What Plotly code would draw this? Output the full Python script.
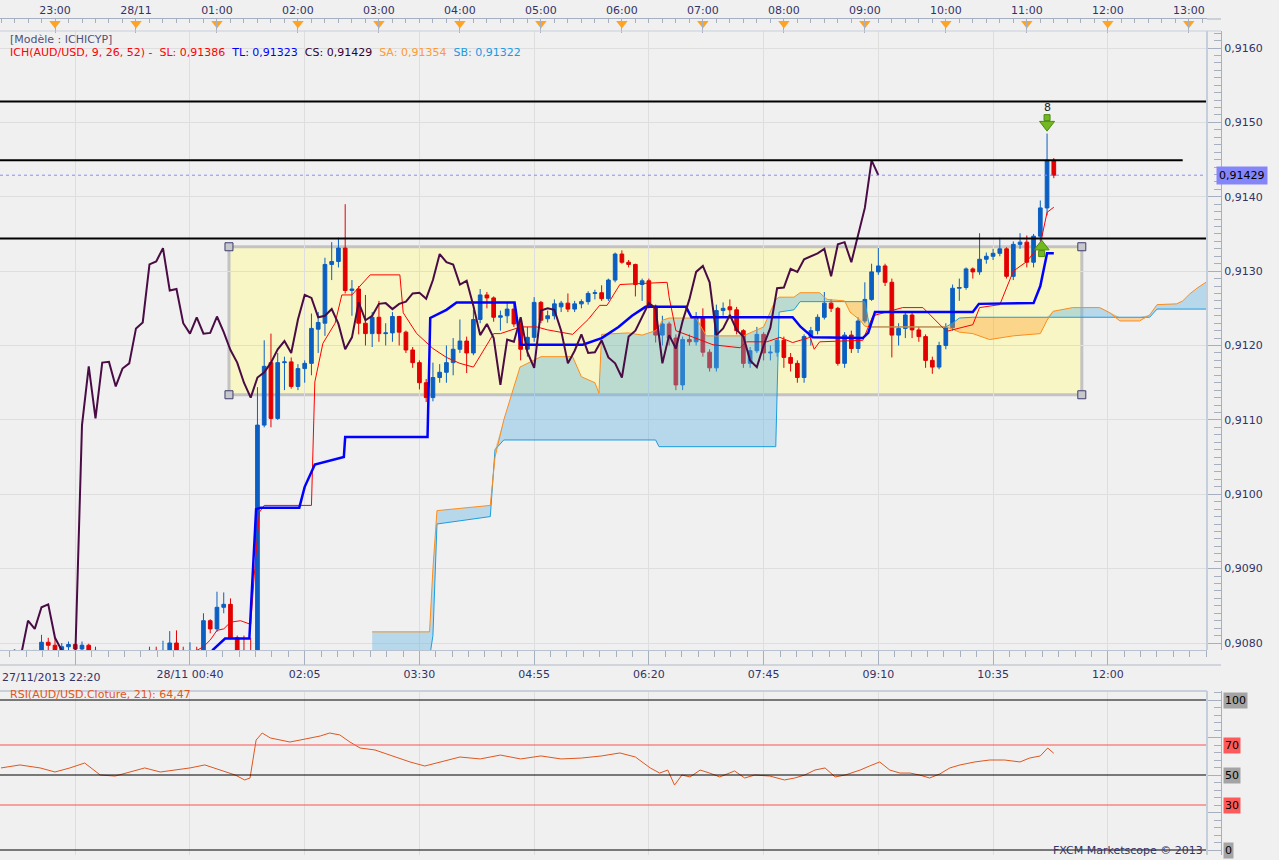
import plotly.graph_objects as go
import pandas as pd

# ---------------- data (5-minute bars, AUD/USD, starting 27/11/2013 22:20) ----------------
START = "2013-11-27 22:20"

opens = [0.9077, 0.9077, 0.9078, 0.9078, 0.9079, 0.9078, 0.9079, 0.90801, 0.90797, 0.9079,
         0.90795, 0.90798, 0.90792, 0.90797, 0.9079, 0.9078, 0.9077, 0.9076, 0.9077, 0.9078,
         0.9077, 0.9078, 0.9078, 0.9079, 0.9078, 0.9079, 0.908, 0.9079, 0.9078, 0.9079,
         0.90785, 0.9083, 0.90819, 0.90848, 0.90852, 0.90807, 0.9079, 0.90785, 0.9078, 0.91093,
         0.91177, 0.91102, 0.91177, 0.91178, 0.91145, 0.91169, 0.91176, 0.91222, 0.9123, 0.91309,
         0.91313, 0.91331, 0.91274, 0.91276, 0.9123, 0.91216, 0.91238, 0.91216, 0.91217, 0.91239,
         0.91218, 0.91194, 0.91177, 0.9115, 0.9113, 0.91157, 0.91164, 0.91177, 0.91195, 0.91206,
         0.9119, 0.91235, 0.91268, 0.91264, 0.91238, 0.9124, 0.91249, 0.91229, 0.91195, 0.91211,
         0.91258, 0.91236, 0.9124, 0.91252, 0.91257, 0.91249, 0.91256, 0.91259, 0.9127, 0.91271,
         0.91263, 0.91288, 0.91323, 0.91312, 0.91309, 0.91282, 0.91287, 0.91253, 0.91214, 0.91229,
         0.9121, 0.91147, 0.91208, 0.91205, 0.91238, 0.91191, 0.9117, 0.91247, 0.91252, 0.91248,
         0.9122, 0.91176, 0.91193, 0.91215, 0.9119, 0.91191, 0.91207, 0.91184, 0.91176, 0.91157,
         0.91212, 0.9122, 0.91238, 0.91257, 0.9125, 0.91176, 0.91214, 0.91196, 0.91233, 0.91262,
         0.91299, 0.91307, 0.91285, 0.91214, 0.91223, 0.91241, 0.91221, 0.91212, 0.9118, 0.91171,
         0.912, 0.91224, 0.91277, 0.91278, 0.91303, 0.91299, 0.91316, 0.9132, 0.91324, 0.9133,
         0.91293, 0.91336, 0.91339, 0.91312, 0.91347, 0.91385, 0.91449]
highs = [0.9078, 0.9078, 0.9079, 0.9079, 0.9079, 0.9079, 0.90811, 0.90807, 0.90807, 0.908,
         0.90802, 0.908, 0.90802, 0.90799, 0.90795, 0.9079, 0.9078, 0.9078, 0.9079, 0.9079,
         0.9078, 0.9079, 0.90795, 0.90795, 0.90803, 0.90816, 0.90817, 0.90795, 0.90801, 0.90795,
         0.9084, 0.90832, 0.90869, 0.90868, 0.9086, 0.9081, 0.9081, 0.90807, 0.91144, 0.91207,
         0.91216, 0.9119, 0.91185, 0.91184, 0.91175, 0.9118, 0.91243, 0.91245, 0.91318, 0.91339,
         0.91345, 0.9139, 0.91288, 0.9128, 0.91268, 0.91245, 0.9126, 0.9123, 0.91245, 0.9124,
         0.9122, 0.91198, 0.9118, 0.91155, 0.91177, 0.91175, 0.912, 0.9121, 0.91235, 0.91212,
         0.91248, 0.91276, 0.91272, 0.91266, 0.91247, 0.91258, 0.91258, 0.91232, 0.91225, 0.91265,
         0.9126, 0.91247, 0.91262, 0.9126, 0.9127, 0.9126, 0.91262, 0.91273, 0.91275, 0.91281,
         0.9129, 0.91325, 0.91328, 0.91315, 0.9131, 0.9129, 0.9129, 0.91255, 0.9124, 0.91232,
         0.91215, 0.91212, 0.91215, 0.91245, 0.9125, 0.91195, 0.91255, 0.91258, 0.91262, 0.91252,
         0.91222, 0.91198, 0.91225, 0.91218, 0.912, 0.9121, 0.91212, 0.9119, 0.9118, 0.91215,
         0.91225, 0.91242, 0.91272, 0.91262, 0.91252, 0.91218, 0.9122, 0.91238, 0.91285, 0.9131,
         0.91331, 0.9131, 0.9129, 0.9123, 0.91245, 0.91245, 0.91225, 0.91215, 0.91185, 0.91205,
         0.9123, 0.91282, 0.9129, 0.91305, 0.91305, 0.91351, 0.91325, 0.9133, 0.91345, 0.91332,
         0.9134, 0.91351, 0.91348, 0.9135, 0.91395, 0.91485, 0.91452]
lows = [0.9076, 0.9076, 0.9077, 0.9077, 0.9078, 0.9077, 0.9078, 0.9079, 0.9078, 0.9078,
        0.9078, 0.9078, 0.9078, 0.9078, 0.9077, 0.9076, 0.9075, 0.9075, 0.9076, 0.9077,
        0.9076, 0.9077, 0.9077, 0.9078, 0.9077, 0.9078, 0.9078, 0.9077, 0.9077, 0.9077,
        0.9078, 0.90813, 0.90815, 0.9084, 0.90805, 0.9078, 0.9077, 0.9077, 0.9077, 0.9109,
        0.9109, 0.911, 0.9114, 0.91142, 0.9114, 0.9115, 0.9116, 0.9119, 0.91213, 0.91288,
        0.91305, 0.9127, 0.9124, 0.91215, 0.912, 0.91198, 0.91205, 0.912, 0.91205, 0.912,
        0.9119, 0.9117, 0.91141, 0.91124, 0.91125, 0.9115, 0.9115, 0.9116, 0.9119, 0.91163,
        0.91187, 0.9123, 0.9125, 0.91232, 0.9122, 0.9123, 0.91225, 0.9118, 0.91185, 0.91205,
        0.9123, 0.91231, 0.91235, 0.91245, 0.91245, 0.91245, 0.9125, 0.91255, 0.91262, 0.9126,
        0.9126, 0.91285, 0.9131, 0.91305, 0.91266, 0.9126, 0.9125, 0.91204, 0.912, 0.912,
        0.9114, 0.9114, 0.912, 0.912, 0.91185, 0.91165, 0.91165, 0.9124, 0.9124, 0.91215,
        0.9117, 0.9117, 0.9119, 0.9118, 0.9118, 0.91185, 0.9117, 0.91165, 0.9115, 0.9115,
        0.912, 0.91215, 0.91235, 0.91245, 0.91173, 0.9117, 0.9119, 0.9119, 0.9123, 0.9126,
        0.91295, 0.9128, 0.91184, 0.912, 0.9121, 0.9121, 0.91205, 0.9117, 0.91162, 0.91168,
        0.91195, 0.9122, 0.9126, 0.91275, 0.9129, 0.91295, 0.9131, 0.91315, 0.9132, 0.9129,
        0.91288, 0.9133, 0.91305, 0.91305, 0.9134, 0.91375, 0.91425]
closes = [0.9077, 0.9078, 0.9078, 0.9079, 0.9078, 0.9079, 0.90801, 0.90797, 0.9079, 0.90795,
          0.90798, 0.90792, 0.90797, 0.9079, 0.9078, 0.9077, 0.9076, 0.9077, 0.9078, 0.9077,
          0.9078, 0.9078, 0.9079, 0.9078, 0.9079, 0.908, 0.9079, 0.9078, 0.9079, 0.90785,
          0.9083, 0.90819, 0.90848, 0.90852, 0.90807, 0.9079, 0.90785, 0.9078, 0.91093, 0.91172,
          0.91102, 0.91177, 0.91178, 0.91145, 0.91169, 0.91176, 0.91223, 0.91231, 0.91309, 0.91313,
          0.91331, 0.91274, 0.91276, 0.9123, 0.91216, 0.91238, 0.91216, 0.91217, 0.91239, 0.91218,
          0.91194, 0.91177, 0.9115, 0.9113, 0.91157, 0.91164, 0.91177, 0.91195, 0.91206, 0.9119,
          0.91235, 0.91268, 0.91264, 0.91238, 0.9124, 0.91249, 0.91229, 0.91195, 0.91211, 0.91258,
          0.91234, 0.9124, 0.91256, 0.91257, 0.91249, 0.91256, 0.91259, 0.9127, 0.91271, 0.91263,
          0.91288, 0.91323, 0.91312, 0.91309, 0.91282, 0.91287, 0.91253, 0.91214, 0.91229, 0.9121,
          0.91147, 0.91208, 0.91205, 0.91238, 0.91191, 0.9117, 0.91247, 0.9125, 0.91248, 0.9122,
          0.91176, 0.91193, 0.91215, 0.9119, 0.91191, 0.91207, 0.91184, 0.91176, 0.91157, 0.91212,
          0.9122, 0.91238, 0.91257, 0.9125, 0.91176, 0.91214, 0.91196, 0.91233, 0.91262, 0.91299,
          0.91307, 0.91285, 0.91214, 0.91223, 0.91241, 0.91221, 0.91212, 0.9118, 0.91171, 0.912,
          0.91224, 0.91277, 0.91278, 0.91303, 0.91299, 0.91316, 0.9132, 0.91324, 0.9133, 0.91293,
          0.91336, 0.91339, 0.91312, 0.91347, 0.91385, 0.91449, 0.91429]

CS_SHIFT = 26  # chikou span plotted 26 bars back

# Tenkan-sen (SL) read as (bar, value)
tenkan_bar = [29, 30, 31, 32, 33, 34, 35.5, 37, 37.6, 38.3, 39, 46, 46.5, 47.7, 49.5, 50.5, 52, 54.7,
              59.1, 59.6, 61.6, 64, 66, 68, 70, 73, 74, 77, 79.4, 81, 84.7, 87, 88.7, 89.8, 91.7,
              98.7, 99, 99.5, 100, 105.5, 109.5, 110.5, 113.5, 115.4, 117.3, 119.9, 120.5, 121.3,
              127.7, 129.2, 133.6, 136.6, 140.1, 144, 145, 148, 150, 152, 154, 155, 156]
tenkan_val = [0.9079, 0.90795, 0.90804, 0.90817, 0.90819, 0.90828, 0.9083, 0.90825, 0.909, 0.90976,
              0.90985, 0.90985, 0.91151, 0.91203, 0.9123, 0.91268, 0.91268, 0.91295,
              0.91295, 0.91244, 0.91216, 0.91196, 0.91184, 0.91176, 0.91171, 0.91216, 0.91216,
              0.91225, 0.91225, 0.91221, 0.91215, 0.91235, 0.91254, 0.91254, 0.91282,
              0.91285, 0.91265, 0.91244, 0.9122, 0.91201, 0.91197, 0.91205, 0.91205, 0.91211,
              0.91204, 0.91211, 0.91195, 0.91205, 0.91207, 0.9124, 0.91251, 0.91251, 0.91219,
              0.91228, 0.91251, 0.91255, 0.913, 0.91313, 0.91336, 0.91379, 0.91386]

# Kijun-sen (TL) read as (bar, value)
kijun_bar = [31.3, 33.2, 36.8, 37.8, 38.5, 44.2, 45, 46.5, 50.8, 51, 63.2, 63.6, 66, 67.5, 76.1,
             77, 86.2, 89, 91.5, 93.5, 95.5, 101.5, 102.3, 117.3, 118.5, 120.3, 127.7, 128.5,
             129.5, 144, 144.9, 153, 154, 155, 156]
kijun_val = [0.9079, 0.90806, 0.90806, 0.9098, 0.90982, 0.90982, 0.9101, 0.9104, 0.9105, 0.91077,
             0.91077, 0.91237, 0.91248, 0.91258, 0.91258, 0.91201, 0.91201, 0.9121, 0.91225,
             0.9124, 0.91252, 0.91252, 0.91238, 0.91238, 0.91225, 0.91211, 0.9121, 0.91217,
             0.91245, 0.91245, 0.91256, 0.91257, 0.9128, 0.91324, 0.91324]

# Senkou spans (SA / SB) read on common bars
cloud_bar = [55, 63.5, 64, 64.6, 72.5, 73.2, 74.5, 76.9, 80, 84.7, 86, 88, 88.6, 89, 93, 95, 97,
             97.5, 98, 99, 103, 104.5, 110, 113, 114.8, 115.3, 117.5, 118.4, 121.3, 122.4, 125,
             125.8, 127.3, 128, 128.7, 140, 141, 142, 144, 146.5, 150, 154, 155, 155.9, 158.8,
             162.8, 164.3, 165.8, 168.7, 170.2, 171.3, 174.2, 175.1, 176.1, 177.2, 178.7]
senkou_a = [0.90815, 0.90815, 0.909, 0.90978, 0.90985, 0.9105, 0.911, 0.91171, 0.91185, 0.91185,
            0.91158, 0.9115, 0.91136, 0.91215, 0.91217, 0.91214, 0.9122, 0.91225, 0.91234, 0.91237,
            0.91237, 0.91213, 0.91213, 0.91225, 0.91262, 0.91265, 0.91265, 0.91271, 0.91271,
            0.91262, 0.9126, 0.91245, 0.91234, 0.91226, 0.91225, 0.91225, 0.91222, 0.91218,
            0.91216, 0.91208, 0.91213, 0.91216, 0.91234, 0.91246, 0.91251, 0.91251, 0.91244,
            0.91233, 0.91233, 0.91241, 0.91255, 0.91256, 0.9126, 0.91269, 0.91277, 0.91286]
senkou_b = [0.9078, 0.9078, 0.9081, 0.9096, 0.9097, 0.9106, 0.91073, 0.91073, 0.91073, 0.91073,
            0.91073, 0.91073, 0.91073, 0.91073, 0.91073, 0.91073, 0.91073, 0.91064, 0.91064,
            0.91064, 0.91064, 0.91064, 0.91064, 0.91064, 0.91064, 0.91245, 0.91248, 0.91259,
            0.91259, 0.91259, 0.91259, 0.91259, 0.91259, 0.91259, 0.91225, 0.91225, 0.9123,
            0.91237, 0.91238, 0.91238, 0.91238, 0.91238, 0.91238, 0.91238, 0.91238, 0.91238,
            0.91238, 0.91238, 0.91238, 0.91238, 0.91249, 0.91249, 0.91249, 0.91249, 0.91249, 0.91249]

# RSI(21) read as (bar, value)
rsi_bar = [0, 2.8, 5.8, 8, 10.2, 12.4, 14.7, 16.9, 19.1, 21.3, 23.6, 25.8, 28, 30.2, 32.4, 34.7,
           36.1, 36.9, 37.8, 38.7, 39.9, 41.3, 42.8, 44.3, 45.8, 47.3, 48.7, 50.2, 51.7, 53.2,
           55.4, 57.6, 60.6, 62.8, 65, 68, 71, 74, 77, 80, 83, 86, 89, 91.7, 94, 96.2, 97.6,
           98.8, 99.8, 100.9, 102.1, 103.6, 105, 106.5, 108.7, 110.2, 111.7, 113.9, 116.1,
           117.6, 119.1, 120.6, 122.1, 123.6, 125.1, 127.3, 128.7, 130.2, 131.7, 133.2, 134.7,
           136.1, 137.6, 139.1, 140.6, 142.1, 144.3, 146.5, 148.7, 151, 152.4, 154, 155.1, 156]
rsi_val = [54.7, 56.7, 54.7, 52, 54.7, 58, 50, 49.3, 52, 54.7, 52, 53.3, 54.7, 56.7, 53.3, 50,
           46.7, 48, 73.3, 78, 74.7, 73.3, 72, 73.3, 74.7, 76, 78, 76.7, 72, 68,
           66.7, 63.3, 58.7, 56, 58.7, 62, 60.7, 63.3, 60.7, 62.7, 60.7, 61.3, 62.7, 64.7, 62,
           54.7, 51.3, 53.3, 43.3, 50, 48.7, 53.3, 51.3, 48.7, 52.7, 48, 50, 49.3, 46.7,
           48, 50, 53.3, 54.7, 48.7, 50, 53.3, 56, 58.7, 53.3, 51.3, 51.3,
           50, 48, 50.7, 54.7, 56.7, 58.7, 60, 60, 58.7, 61.3, 62.7, 68, 64.47]

# horizontal support / resistance lines (price, last bar reached)
level_price = [0.91528, 0.91449, 0.91344]
level_end = [178.7, 175.1, 178.7]
last_price = 0.91429

# rectangle drawing (bars, prices)
rect_bar = [33.78, 160.15]
rect_price = [0.911338, 0.913328]

# signal arrows: sell (down) above bar 155, buy (up) at bar 154
sell_bar, sell_price = 155, 0.91497
buy_bar, buy_price = 154.2, 0.91333

top_ticks_bar = [8 + 12 * k for k in range(15)]
top_ticks_text = ["23:00", "28/11", "01:00", "02:00", "03:00", "04:00", "05:00", "06:00",
                  "07:00", "08:00", "09:00", "10:00", "11:00", "12:00", "13:00"]
bot_ticks_bar = [11, 28, 45, 62, 79, 96, 113, 130, 147, 164]
bot_ticks_text = ["", "28/11 00:40", "02:05", "03:30", "04:55", "06:20", "07:45", "09:10",
                  "10:35", "12:00"]

# ---------------- helpers ----------------
T0 = pd.Timestamp(START)
STEP = pd.Timedelta(minutes=5)


def t(b):
    return T0 + STEP * b


W, H = 1279, 860


def py(p):
    return 1 - p / H


FONT = "DejaVu Sans"
NAVY = "#333366"
XR = [t(-0.15), t(178.7)]
XDOM = [0, 1207 / W]
PX_PER_PRICE = 74370.0

times = [t(i) for i in range(len(closes))]

fig = go.Figure()

# candles
fig.add_trace(go.Candlestick(
    x=times, open=opens, high=highs, low=lows, close=closes,
    increasing=dict(line=dict(color="#0b5fc2", width=1), fillcolor="#0b5fc2"),
    decreasing=dict(line=dict(color="#e20000", width=1), fillcolor="#e20000"),
    whiskerwidth=0, showlegend=False, hoverinfo="skip", xaxis="x", yaxis="y"))

# cloud fills (blue where SA above SB, orange where SB above SA)
cx = [t(b) for b in cloud_bar]
upper = [max(a, b) for a, b in zip(senkou_a, senkou_b)]
fig.add_trace(go.Scatter(x=cx, y=senkou_b, mode="lines", line=dict(width=0), showlegend=False,
                         hoverinfo="skip"))
fig.add_trace(go.Scatter(x=cx, y=upper, mode="lines", line=dict(width=0), fill="tonexty",
                         fillcolor="rgba(95,180,225,0.40)", showlegend=False, hoverinfo="skip"))
fig.add_trace(go.Scatter(x=cx, y=senkou_a, mode="lines", line=dict(width=0), showlegend=False,
                         hoverinfo="skip"))
fig.add_trace(go.Scatter(x=cx, y=upper, mode="lines", line=dict(width=0), fill="tonexty",
                         fillcolor="rgba(255,160,40,0.38)", showlegend=False, hoverinfo="skip"))
fig.add_trace(go.Scatter(x=cx, y=senkou_b, mode="lines", line=dict(color="#1a9ee0", width=1),
                         showlegend=False, hoverinfo="skip"))
fig.add_trace(go.Scatter(x=cx, y=senkou_a, mode="lines", line=dict(color="#ff8c1a", width=1),
                         showlegend=False, hoverinfo="skip"))

# tenkan / kijun
fig.add_trace(go.Scatter(x=[t(b) for b in tenkan_bar], y=tenkan_val, mode="lines",
                         line=dict(color="#ff0000", width=1), showlegend=False, hoverinfo="skip"))
fig.add_trace(go.Scatter(x=[t(b) for b in kijun_bar], y=kijun_val, mode="lines",
                         line=dict(color="#0000ff", width=2.5), showlegend=False, hoverinfo="skip"))

# chikou span = closes shifted back
fig.add_trace(go.Scatter(x=times[:len(closes) - CS_SHIFT], y=closes[CS_SHIFT:], mode="lines",
                         line=dict(color="#4a0c44", width=2), showlegend=False, hoverinfo="skip"))

# level lines
for p, e in zip(level_price, level_end):
    fig.add_trace(go.Scatter(x=[XR[0], t(e)], y=[p, p], mode="lines",
                             line=dict(color="#000000", width=2), showlegend=False, hoverinfo="skip"))
fig.add_trace(go.Scatter(x=XR, y=[last_price, last_price], mode="lines",
                         line=dict(color="#8c8cff", width=1, dash="3px,3px"), showlegend=False,
                         hoverinfo="skip"))

# signal arrows (shaft + head)
ARROW_GREEN = "#74b821"
ARROW_EDGE = "#4d8a10"
fig.add_trace(go.Scatter(x=[t(sell_bar)], y=[sell_price + 7 / PX_PER_PRICE], mode="markers",
                         marker=dict(symbol="square", size=6, color=ARROW_GREEN,
                                     line=dict(color=ARROW_EDGE, width=1)),
                         showlegend=False, hoverinfo="skip"))
fig.add_trace(go.Scatter(x=[t(sell_bar)], y=[sell_price], mode="markers",
                         marker=dict(symbol="triangle-down", size=13, color=ARROW_GREEN,
                                     line=dict(color=ARROW_EDGE, width=1)),
                         showlegend=False, hoverinfo="skip"))
fig.add_trace(go.Scatter(x=[t(buy_bar)], y=[buy_price - 7 / PX_PER_PRICE], mode="markers",
                         marker=dict(symbol="square", size=6, color=ARROW_GREEN,
                                     line=dict(color=ARROW_EDGE, width=1)),
                         showlegend=False, hoverinfo="skip"))
fig.add_trace(go.Scatter(x=[t(buy_bar)], y=[buy_price], mode="markers",
                         marker=dict(symbol="triangle-up", size=13, color=ARROW_GREEN,
                                     line=dict(color=ARROW_EDGE, width=1)),
                         showlegend=False, hoverinfo="skip"))

# RSI
fig.add_trace(go.Scatter(x=[t(b) for b in rsi_bar], y=rsi_val, mode="lines",
                         line=dict(color="#e0561e", width=1), showlegend=False, hoverinfo="skip",
                         xaxis="x2", yaxis="y2"))
for lv, col in [(100, "#000000"), (70, "#ff5050"), (50, "#000000"), (30, "#ff5050"), (0, "#000000")]:
    fig.add_trace(go.Scatter(x=XR, y=[lv, lv], mode="lines", line=dict(color=col, width=1),
                             showlegend=False, hoverinfo="skip", xaxis="x2", yaxis="y2"))

# top time axis markers
fig.add_trace(go.Scatter(x=[t(b) for b in top_ticks_bar], y=[0.62] * len(top_ticks_bar),
                         mode="markers", marker=dict(symbol="triangle-down", size=10, color="#ffa326"),
                         showlegend=False, hoverinfo="skip", xaxis="x3", yaxis="y3", cliponaxis=False))

axis_font = dict(family=FONT, size=11, color=NAVY)
grid_col = "#dedede"

fig.update_layout(
    width=W, height=H, margin=dict(l=0, r=0, t=0, b=0),
    paper_bgcolor="#f0f0f0", plot_bgcolor="#f0f0f0",
    separators=", ", boxgap=0.22, showlegend=False,
    font=dict(family=FONT, size=11, color=NAVY),
    xaxis=dict(domain=XDOM, anchor="y", type="date", range=XR, rangeslider=dict(visible=False),
               tickmode="array", tickvals=[t(b) for b in bot_ticks_bar], ticktext=bot_ticks_text,
               ticks="outside", ticklen=14, tickcolor="#a7b0c0", showgrid=True, gridcolor=grid_col,
               showline=True, linecolor="#b8c2d0", linewidth=1, tickfont=axis_font,
               minor=dict(ticks="outside", ticklen=6, tickcolor="#a7b0c0",
                          tick0=t(11), dtick=17 * 5 * 60000 / 7, showgrid=False),
               zeroline=False),
    yaxis=dict(domain=[py(650), py(31)], range=[0.907906, 0.916229], side="right",
               anchor="free", position=1221 / W, tickmode="linear", tick0=0.908, dtick=0.001,
               tickformat=".4f", ticks="inside", ticklen=14, tickcolor="#a7b0c0",
               showline=True, linecolor="#a7b0c0", showgrid=True, gridcolor=grid_col,
               tickfont=axis_font, zeroline=False,
               minor=dict(ticks="inside", ticklen=7, dtick=0.0001, tickcolor="#a7b0c0",
                          showgrid=False)),
    xaxis2=dict(domain=XDOM, anchor="y2", type="date", range=XR, matches="x",
                tickmode="array", tickvals=[t(b) for b in bot_ticks_bar], showticklabels=False,
                ticks="", showgrid=True, gridcolor=grid_col, showline=False, zeroline=False),
    yaxis2=dict(domain=[py(855), py(691)], range=[-3.33, 106], side="right", anchor="free",
                position=1221 / W, tickmode="array", tickvals=[0, 25, 50, 75, 100],
                showticklabels=False, ticks="inside", ticklen=14, tickcolor="#a7b0c0",
                showline=True, linecolor="#a7b0c0", showgrid=False, zeroline=False,
                minor=dict(ticks="inside", ticklen=7, dtick=5, tickcolor="#a7b0c0")),
    xaxis3=dict(domain=XDOM, anchor="y3", type="date", range=XR, matches="x", side="top",
                tickmode="array", tickvals=[t(b) for b in top_ticks_bar], ticktext=top_ticks_text,
                ticks="inside", ticklen=14, tickcolor="#a7b0c0", showline=True,
                linecolor="#a7b0c0", showgrid=False, tickfont=axis_font, zeroline=False,
                minor=dict(ticks="inside", ticklen=4, tickcolor="#a7b0c0", tick0=t(8),
                           dtick=10 * 60000)),
    yaxis3=dict(domain=[py(31), py(19)], range=[0, 1], visible=False),
)

# shapes: frames, rectangle, handles
shapes = [
    dict(type="line", xref="paper", yref="paper", x0=0, x1=1221 / W, y0=py(31), y1=py(31),
         line=dict(color="#c8cfda", width=1)),
    dict(type="line", xref="paper", yref="paper", x0=1207 / W, x1=1207 / W, y0=py(650), y1=py(31),
         line=dict(color="#c5cedb", width=2)),
    dict(type="line", xref="paper", yref="paper", x0=0, x1=1221 / W, y0=py(665), y1=py(665),
         line=dict(color="#b0b8c6", width=1)),
    dict(type="line", xref="paper", yref="paper", x0=0, x1=1207 / W, y0=py(691), y1=py(691),
         line=dict(color="#c8d0dc", width=2)),
    dict(type="line", xref="paper", yref="paper", x0=1207 / W, x1=1207 / W, y0=py(855), y1=py(691),
         line=dict(color="#c5cedb", width=2)),
    dict(type="line", xref="paper", yref="paper", x0=1207 / W, x1=1221 / W, y0=py(19), y1=py(19),
         line=dict(color="#a7b0c0", width=1)),
    dict(type="rect", xref="x", yref="y", x0=t(rect_bar[0]), x1=t(rect_bar[1]),
         y0=rect_price[0], y1=rect_price[1], fillcolor="#f8f6c5",
         line=dict(color="#c3c3c3", width=3), layer="below"),
]
for b in rect_bar:
    for p in rect_price:
        shapes.append(dict(type="rect", xref="x", yref="y", xsizemode="pixel", ysizemode="pixel",
                           xanchor=t(b), yanchor=p, x0=-4, x1=4, y0=-4, y1=4,
                           fillcolor="#c8c8cc", line=dict(color="#3c3c6c", width=1), layer="above"))
fig.update_layout(shapes=shapes)

sp = "\u00a0"
legend2 = ("<span style='color:#ff0000'>ICH(AUD/USD, 9, 26, 52) -" + sp * 2 + "SL: 0,91386</span>" + sp * 2 +
           "<span style='color:#0000ff'>TL: 0,91323</span>" + sp * 2 +
           "<span style='color:#330033'>CS: 0,91429</span>" + sp * 2 +
           "<span style='color:#ff9a2e'>SA: 0,91354</span>" + sp * 2 +
           "<span style='color:#1a9ae6'>SB: 0,91322</span>")
ann = [
    dict(text="[Modèle : ICHICYP]", x=8 / W, y=py(40), xref="paper", yref="paper",
         xanchor="left", yanchor="middle", showarrow=False, font=dict(color="#505078", size=11)),
    dict(text=legend2, x=8 / W, y=py(52), xref="paper", yref="paper",
         xanchor="left", yanchor="middle", showarrow=False, font=dict(size=11)),
    dict(text="27/11/2013 22:20", x=0, y=py(677), xref="paper", yref="paper",
         xanchor="left", yanchor="middle", showarrow=False, font=axis_font),
    dict(text="RSI(AUD/USD.Cloture, 21): 64,47", x=8 / W, y=py(694), xref="paper", yref="paper",
         xanchor="left", yanchor="middle", showarrow=False, font=dict(color="#e0561e", size=11)),
    dict(text="FXCM Marketscope © 2013", x=1205 / W, y=py(850), xref="paper", yref="paper",
         xanchor="right", yanchor="middle", showarrow=False, font=dict(color=NAVY, size=11)),
    dict(text="0,91429", x=1216 / W, y=last_price, xref="paper", yref="y", xanchor="left",
         yanchor="middle", showarrow=False, bgcolor="#8585fa", font=dict(color="#000000", size=11),
         borderpad=2),
    dict(text="8", x=t(sell_bar), y=sell_price + 9 / PX_PER_PRICE, xref="x", yref="y",
         yanchor="bottom", showarrow=False, font=dict(color="#222222", size=11)),
]
for lv, bg in [(100, "#a4a4a4"), (70, "#ff5a5a"), (50, "#a4a4a4"), (30, "#ff5a5a"), (0, "#a4a4a4")]:
    ann.append(dict(text=str(lv), x=1223 / W, y=lv, xref="paper", yref="y2", xanchor="left",
                    yanchor="middle", showarrow=False, bgcolor=bg,
                    font=dict(color="#000000", size=11), borderpad=1))
fig.update_layout(annotations=ann)

fig.write_html("out.html", config={"displayModeBar": False},
               post_script="document.body.style.margin='0px';document.body.style.overflow='hidden';")
